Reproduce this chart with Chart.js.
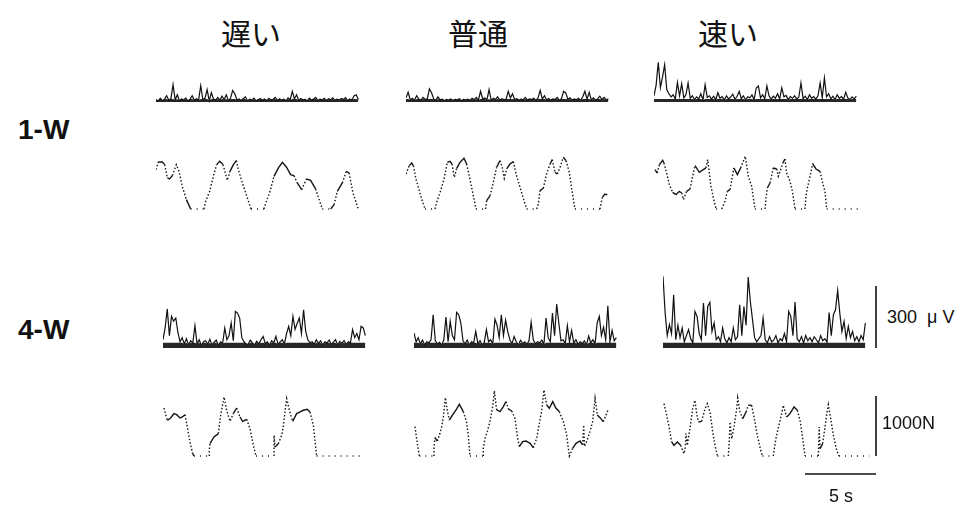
<!DOCTYPE html>
<html lang="ja">
<head>
<meta charset="utf-8">
<title>EMG and force traces</title>
<script src="https://cdn.jsdelivr.net/npm/chart.js@4.4.1/dist/chart.umd.min.js"></script>
<style>
  html, body { margin: 0; padding: 0; background: #fff; }
  #fig { position: relative; width: 966px; height: 505px; overflow: hidden;
         font-family: "Liberation Sans", Arial, sans-serif; color: #111; }
  #fig canvas { position: absolute; }
  .speed { position: absolute; top: 17px; line-height: 1; font-size: 30px;
           font-family: "Noto Sans CJK JP", sans-serif; transform: translateX(-50%); }
  .cond { position: absolute; left: 18px; line-height: 1; font-weight: bold; font-size: 28px; }
  .unit { position: absolute; line-height: 1; font-size: 18px; white-space: pre; }
</style>
</head>
<body>
<div id="fig"></div>
<script>
// column / row labels
const speeds = ['遅い', '普通', '速い'];
const conditions = ['1-W', '4-W'];

// EMG arrays are sampled every emgStep seconds (values in μV)
const emgStep = 0.15;

const emg1wSlow = [
  12, 4, 18, 6, 14, 30, 8, 16, 84, 10,
  35, 6, 15, 9, 20, 5, 14, 30, 7, 16,
  10, 79, 12, 18, 60, 6, 45, 14, 9, 22,
  8, 28, 12, 35, 6, 18, 56, 40, 10, 15,
  7, 17, 25, 5, 14, 9, 19, 6, 12, 16,
  8, 15, 6, 18, 10, 13, 22, 7, 16, 9,
  14, 6, 20, 11, 52, 15, 35, 8, 17, 10,
  13, 6, 19, 9, 15, 22, 7, 14, 10, 18,
  6, 16, 11, 20, 8, 14, 9, 17, 12, 21,
  7, 15, 10, 30, 35, 12
];
const emg1wNormal = [
  20, 47, 10, 18, 8, 30, 14, 9, 22, 12,
  16, 63, 45, 15, 8, 25, 10, 14, 6, 12,
  9, 15, 7, 13, 10, 16, 6, 12, 9, 14,
  8, 18, 11, 22, 9, 52, 15, 20, 10, 60,
  8, 18, 12, 25, 9, 16, 11, 14, 52, 20,
  40, 12, 16, 8, 14, 10, 22, 9, 15, 12,
  18, 8, 20, 56, 14, 30, 10, 17, 9, 15,
  12, 22, 8, 16, 52, 44, 13, 20, 9, 15,
  11, 18, 8, 25, 52, 14, 47, 10, 20, 9,
  15, 28, 12, 22, 10, 16
];
const emg1wFast = [
  30, 82, 192, 70, 120, 180, 60, 40, 25, 35,
  15, 95, 30, 88, 20, 35, 92, 18, 30, 12,
  25, 15, 40, 10, 84, 22, 30, 14, 28, 12,
  45, 18, 26, 10, 30, 15, 24, 38, 12, 28,
  52, 16, 30, 10, 25, 20, 34, 12, 68, 78,
  20, 35, 15, 78, 30, 14, 28, 18, 40, 15,
  68, 25, 32, 12, 26, 18, 30, 14, 24, 92,
  16, 28, 12, 35, 18, 26, 14, 30, 92, 20,
  116, 25, 40, 15, 28, 12, 35, 18, 26, 14,
  47, 20, 12, 25, 15, 28
];
const emg4wSlow = [
  40, 97, 189, 60, 153, 130, 145, 75, 30, 50,
  20, 45, 15, 35, 25, 108, 20, 40, 12, 30,
  35, 18, 42, 15, 28, 38, 12, 30, 22, 97,
  40, 60, 121, 35, 177, 169, 145, 50, 30, 20,
  18, 38, 25, 15, 32, 20, 40, 56, 22, 30,
  14, 35, 25, 56, 18, 30, 40, 20, 70, 105,
  60, 153, 90, 120, 145, 70, 185, 80, 40, 25,
  30, 18, 40, 22, 35, 15, 30, 25, 38, 18,
  28, 40, 15, 32, 22, 36, 18, 30, 25, 89,
  50, 70, 40, 105, 97, 60
];
const emg4wNormal = [
  72, 30, 50, 20, 38, 15, 30, 25, 40, 161,
  35, 20, 28, 15, 40, 150, 30, 129, 60, 40,
  172, 161, 121, 35, 20, 38, 15, 30, 25, 80,
  20, 35, 15, 28, 89, 30, 40, 20, 140, 110,
  50, 161, 60, 134, 80, 40, 20, 55, 30, 15,
  38, 22, 30, 18, 35, 124, 40, 20, 30, 25,
  38, 18, 145, 50, 30, 169, 60, 213, 120, 35,
  40, 20, 108, 30, 85, 25, 40, 18, 30, 22,
  35, 15, 58, 25, 40, 20, 121, 153, 60, 101,
  40, 204, 30, 85, 35, 50
];
const emg4wFast = [
  347, 169, 60, 113, 70, 258, 40, 110, 50, 97,
  30, 60, 89, 45, 25, 177, 153, 70, 40, 218,
  60, 201, 221, 80, 121, 40, 55, 30, 97, 45,
  25, 50, 30, 97, 40, 55, 209, 60, 201, 110,
  343, 225, 140, 50, 30, 45, 60, 145, 40, 25,
  55, 30, 38, 60, 25, 45, 35, 70, 30, 177,
  153, 60, 222, 45, 30, 55, 25, 60, 35, 50,
  30, 55, 40, 25, 60, 35, 45, 28, 172, 60,
  161, 185, 279, 169, 80, 129, 45, 105, 50, 80,
  35, 55, 30, 60, 40, 121
];

// force traces, [time s, force N]
const force1wSlow = [[0,656],[0.16,784],[0.45,784],[0.61,740],[0.8,517],[0.96,500],[1.15,556],[1.43,740],[1.62,628],[1.85,378],[2.14,156],[2.44,0],[3.38,0],[3.5,128],[3.78,295],[4.04,545],[4.27,740],[4.48,795],[4.72,740],[5.02,478],[5.21,628],[5.45,740],[5.66,806],[5.8,656],[6.08,434],[6.36,239],[6.69,0],[7.6,0],[7.77,128],[8.0,267],[8.31,545],[8.62,684],[8.9,778],[9.18,700],[9.48,573],[9.72,556],[9.95,434],[10.26,322],[10.59,500],[10.89,478],[11.24,334],[11.71,0],[12.3,0],[12.54,72],[12.77,295],[13.12,434],[13.4,628],[13.6,600],[13.87,267],[14.25,0]];
const force1wNormal = [[0,584],[0.23,723],[0.4,767],[0.52,723],[0.7,500],[0.94,306],[1.1,167],[1.34,0],[2.04,0],[2.16,111],[2.44,306],[2.68,500],[2.91,778],[3.1,795],[3.24,750],[3.4,528],[3.57,678],[3.8,778],[4.08,845],[4.27,750],[4.5,500],[4.74,222],[4.93,0],[5.6,0],[5.68,139],[5.92,222],[6.15,445],[6.38,695],[6.62,806],[6.78,695],[6.92,511],[7.09,667],[7.32,750],[7.56,790],[7.75,584],[8.03,361],[8.31,139],[8.5,0],[9.2,0],[9.32,83],[9.44,306],[9.67,345],[9.9,584],[10.14,750],[10.3,823],[10.49,611],[10.66,584],[10.85,695],[11.08,862],[11.27,806],[11.5,611],[11.67,334],[11.9,0],[13.66,0],[13.83,195],[14.0,250],[14.18,234]];
const force1wFast = [[0.07,656],[0.23,600],[0.38,740],[0.61,812],[0.7,767],[0.89,600],[1.08,406],[1.31,278],[1.55,239],[1.78,295],[1.95,267],[2.07,156],[2.18,222],[2.3,295],[2.54,334],[2.72,545],[2.89,723],[3.19,612],[3.47,656],[3.66,684],[3.78,823],[3.9,600],[3.99,406],[4.18,184],[4.37,0],[4.77,0],[5.0,128],[5.16,295],[5.35,322],[5.63,684],[5.87,573],[6.1,684],[6.29,795],[6.43,878],[6.64,545],[6.88,378],[7.11,0],[7.82,0],[7.89,184],[7.98,350],[8.17,434],[8.4,684],[8.64,667],[8.75,545],[8.92,656],[9.1,778],[9.22,834],[9.34,600],[9.58,461],[9.77,267],[9.93,0],[10.63,0],[10.7,211],[10.8,350],[10.99,545],[11.17,756],[11.41,667],[11.69,628],[11.88,434],[12.04,295],[12.16,0],[14.5,0]];
const force4wSlow = [[0.07,800],[0.3,595],[0.54,634],[0.77,706],[0.96,689],[1.2,634],[1.36,650],[1.55,689],[1.71,484],[1.9,234],[2.09,39],[2.18,0],[3.26,0],[3.26,95],[3.31,206],[3.59,317],[3.9,373],[4.06,678],[4.3,984],[4.48,762],[4.72,578],[4.95,706],[5.19,800],[5.42,650],[5.61,578],[5.89,612],[6.13,456],[6.36,178],[6.55,0],[7.82,0],[7.82,345],[7.89,150],[8.12,206],[8.36,345],[8.47,484],[8.59,734],[8.71,956],[8.9,762],[9.13,578],[9.41,706],[9.65,734],[9.88,762],[10.16,778],[10.35,734],[10.59,512],[10.82,0],[14.2,0]];
const force4wNormal = [[0.07,489],[0.23,211],[0.38,0],[1.41,0],[1.41,156],[1.48,306],[1.64,250],[1.83,378],[1.95,489],[2.07,656],[2.21,973],[2.35,750],[2.49,600],[2.72,684],[2.96,767],[3.19,862],[3.47,740],[3.71,561],[3.83,323],[3.94,0],[4.88,0],[4.88,128],[5.0,295],[5.16,406],[5.35,573],[5.54,823],[5.66,1084],[5.82,767],[6.06,740],[6.29,823],[6.48,906],[6.64,784],[6.88,750],[7.11,628],[7.28,323],[7.42,156],[7.65,239],[7.89,250],[8.17,211],[8.4,139],[8.64,295],[8.83,545],[9.0,767],[9.15,1100],[9.34,851],[9.53,795],[9.77,906],[10.0,795],[10.23,740],[10.52,573],[10.75,350],[10.94,0],[11.17,128],[11.41,211],[11.69,250],[11.88,184],[11.95,517],[12.01,160],[12.2,267],[12.39,406],[12.58,573],[12.75,962],[12.91,684],[13.1,639],[13.33,573],[13.57,712],[13.69,784]];
const force4wFast = [[0.07,873],[0.26,678],[0.45,456],[0.61,234],[0.77,178],[1.01,234],[1.24,178],[1.48,39],[1.57,150],[1.62,373],[1.71,178],[1.9,456],[2.09,789],[2.25,928],[2.37,706],[2.49,567],[2.72,578],[2.96,789],[3.12,873],[3.31,734],[3.5,400],[3.66,178],[3.83,0],[4.6,0],[4.67,261],[4.72,567],[4.84,289],[5.0,484],[5.19,789],[5.26,967],[5.42,734],[5.61,623],[5.85,734],[6.0,845],[6.24,845],[6.48,567],[6.64,345],[6.88,95],[7.0,0],[7.77,0],[7.89,206],[8.0,345],[8.19,539],[8.36,706],[8.47,845],[8.71,650],[8.94,706],[9.23,817],[9.46,762],[9.65,595],[9.84,289],[10.0,0],[10.94,0],[11.0,484],[11.06,122],[11.24,206],[11.41,484],[11.57,762],[11.64,856],[11.81,623],[12.0,345],[12.23,95],[12.39,0],[14.53,0]];

// scale bars
const barEmg = 300;     // μV
const barForce = 1000;  // N
const barTime = 5;      // s
const barAt = 15;       // s, where the vertical bars sit

// drawing scale shared by all panels
const PX_PER_S = 14.2;
const PX_PER_UV = 62 / 300;
const PX_PER_N = 0.06;

const fig = document.getElementById('fig');

function emgPoints(values, cap) {
    return values.map((v, i) => ({ x: i * emgStep, y: Math.min(v, cap) }));
}
function forcePoints(pairs) {
    return pairs.map(p => ({ x: p[0], y: p[1] }));
}

// rectified EMG: the low part of the signal is shaded to give the dark base band,
// the full signal is drawn on top as a thin line so the spikes stay narrow
function emgSets(values, band) {
    return [
        { data: emgPoints(values, band), borderWidth: 0, borderColor: 'rgba(0,0,0,0)',
          fill: 'origin', backgroundColor: 'rgba(15,15,15,0.9)', clip: false },
        { data: emgPoints(values, Infinity), borderColor: '#111', borderWidth: 1.2, clip: false }
    ];
}

function forceSet(pairs) {
    return {
        data: forcePoints(pairs), borderColor: '#151515', borderWidth: 1.4, clip: false,
        segment: {
            borderDash: ctx => {
                const d = ctx.chart.data.datasets[ctx.datasetIndex].data;
                if (d[ctx.p0DataIndex].y === 0 && d[ctx.p1DataIndex].y === 0) return [1, 5];
                const dx = Math.abs(ctx.p1.x - ctx.p0.x), dy = Math.abs(ctx.p1.y - ctx.p0.y);
                return dy > 2.2 * dx ? [1.5, 2] : undefined;
            }
        }
    };
}

function barSet(points, width) {
    return { data: points, borderColor: '#111', borderWidth: width, clip: false };
}

function panel(left, top, width, height, baseline, pxPerUnit, datasets) {
    const canvas = document.createElement('canvas');
    canvas.width = width;
    canvas.height = height;
    canvas.style.left = left + 'px';
    canvas.style.top = top + 'px';
    fig.appendChild(canvas);
    new Chart(canvas, {
        type: 'line',
        data: { datasets: datasets },
        options: {
            responsive: false,
            animation: false,
            events: [],
            layout: { padding: 0 },
            elements: { point: { radius: 0 }, line: { tension: 0 } },
            plugins: { legend: { display: false }, tooltip: { enabled: false } },
            scales: {
                x: { type: 'linear', display: false, min: 0, max: width / PX_PER_S },
                y: { display: false,
                     min: -(top + height - baseline) / pxPerUnit,
                     max: (baseline - top) / pxPerUnit }
            }
        }
    });
}

// 1-W rows
const left1w = [156, 406, 654];
const emg1w = [emg1wSlow, emg1wNormal, emg1wFast];
const force1w = [force1wSlow, force1wNormal, force1wFast];
for (let c = 0; c < 3; c++) {
    panel(left1w[c], 55, 215, 52, 102, PX_PER_UV, emgSets(emg1w[c], 14));
    panel(left1w[c], 148, 215, 66, 209, PX_PER_N, [forceSet(force1w[c])]);
}

// 4-W rows (last column also carries the scale bars)
const left4w = [163, 414, 663];
const emg4w = [emg4wSlow, emg4wNormal, emg4wFast];
const force4w = [force4wSlow, force4wNormal, force4wFast];
for (let c = 0; c < 3; c++) {
    const eSets = emgSets(emg4w[c], 26);
    const fSets = [forceSet(force4w[c])];
    if (c === 2) {
        eSets.push(barSet([{ x: barAt, y: 0 }, { x: barAt, y: barEmg }], 1.6));
        fSets.push(barSet([{ x: barAt, y: 0 }, { x: barAt, y: barForce }], 1.6));
        fSets.push(barSet([{ x: barAt - barTime, y: -300 }, { x: barAt, y: -300 }], 1.5));
    }
    panel(left4w[c], 266, 222, 88, 348, PX_PER_UV, eSets);
    panel(left4w[c], 385, 222, 95, 456, PX_PER_N, fSets);
}

// text
const speedX = [251, 478, 728];
speeds.forEach((s, i) => {
    const d = document.createElement('div');
    d.className = 'speed';
    d.style.left = speedX[i] + 'px';
    d.textContent = s;
    fig.appendChild(d);
});
const condY = [116, 316];
conditions.forEach((s, i) => {
    const d = document.createElement('div');
    d.className = 'cond';
    d.style.top = condY[i] + 'px';
    d.textContent = s;
    fig.appendChild(d);
});
function unitLabel(text, left, top, center) {
    const d = document.createElement('div');
    d.className = 'unit';
    d.style.left = left + 'px';
    d.style.top = top + 'px';
    if (center) d.style.transform = 'translateX(-50%)';
    d.textContent = text;
    fig.appendChild(d);
}
unitLabel(barEmg + '  \u03bc V', 887, 308);
unitLabel(barForce + 'N', 882, 414);
unitLabel(barTime + ' s', 841, 487, true);
</script>
</body>
</html>
